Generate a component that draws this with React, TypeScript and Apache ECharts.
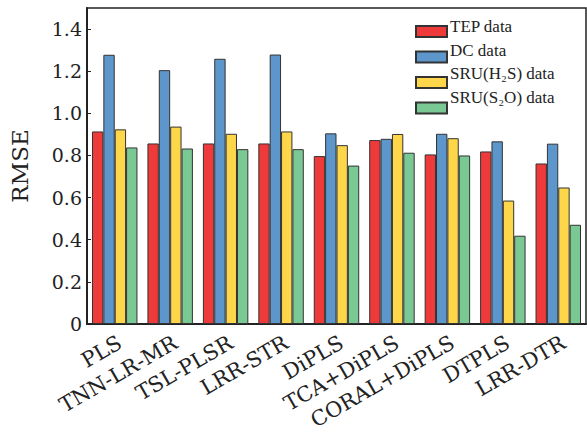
import React, { useEffect, useRef } from "react";
import * as echarts from "echarts";

const categories = ["PLS", "TNN-LR-MR", "TSL-PLSR", "LRR-STR", "DiPLS", "TCA+DiPLS", "CORAL+DiPLS", "DTPLS", "LRR-DTR"];
const seriesNames = ["TEP data", "DC data", "SRU(H₂S) data", "SRU(S₂O) data"];
const tepData = [0.914, 0.857, 0.857, 0.857, 0.797, 0.873, 0.805, 0.819, 0.762];
const dcData = [1.278, 1.205, 1.259, 1.279, 0.905, 0.879, 0.903, 0.867, 0.856];
const h2sData = [0.924, 0.937, 0.903, 0.914, 0.849, 0.902, 0.882, 0.586, 0.648];
const s2oData = [0.838, 0.833, 0.83, 0.83, 0.752, 0.813, 0.8, 0.419, 0.471];
const colors = ["#EE3A3B", "#5C96CB", "#FDD649", "#7AC894"];
const yTicks = [0, 0.2, 0.4, 0.6, 0.8, 1.0, 1.2, 1.4];

const FONT = "DejaVu Serif";
const INK = "#222";

const LEGEND_LEFT = 410;
const LEGEND_TOP = 20;
const LEGEND_ITEM_H = 11;
const LEGEND_GAP = 12.5;

export default function App() {
  const ref = useRef<HTMLDivElement>(null);
  useEffect(() => {
    if (!ref.current) return;
    const chart = echarts.init(ref.current, undefined, { renderer: "svg" });
    const values = [tepData, dcData, h2sData, s2oData];
    chart.setOption({
      animation: false,
      textStyle: { fontFamily: FONT },
      grid: {
        left: 82,
        right: 1,
        top: 8,
        bottom: 109,
        show: true,
        borderColor: INK,
        borderWidth: 1.5,
        containLabel: false,
      },
      legend: {
        orient: "vertical",
        left: LEGEND_LEFT,
        top: LEGEND_TOP,
        itemWidth: 31,
        itemHeight: LEGEND_ITEM_H,
        itemGap: LEGEND_GAP,
        icon: "rect",
        data: seriesNames,
        formatter: () => " ",
        textStyle: { fontSize: 1, color: "rgba(0,0,0,0)", padding: 0 },
      },
      graphic: seriesNames.map((name, i) => ({
        type: "text",
        x: LEGEND_LEFT + 40,
        y: LEGEND_TOP + LEGEND_ITEM_H / 2 + 1 + i * (LEGEND_ITEM_H + LEGEND_GAP),
        style: {
          text: name,
          fontFamily: "serif",
          fontSize: 17,
          fill: INK,
          verticalAlign: "middle",
          align: "left",
        },
      })),
      xAxis: {
        type: "category",
        data: categories,
        axisLine: { lineStyle: { color: INK, width: 2 } },
        axisTick: { show: false },
        axisLabel: {
          rotate: 30,
          interval: 0,
          fontSize: 21,
          fontFamily: FONT,
          color: INK,
          align: "right",
          verticalAlign: "top",
          margin: 8,
        },
      },
      yAxis: {
        type: "value",
        min: 0,
        max: 1.5,
        interval: 0.2,
        name: "RMSE",
        nameLocation: "middle",
        nameGap: 56,
        nameTextStyle: { fontSize: 23, fontFamily: FONT, color: INK },
        axisLine: { show: true, lineStyle: { color: INK, width: 2 } },
        axisTick: { show: true, inside: true, length: 4, lineStyle: { color: INK } },
        splitLine: { show: false },
        axisLabel: {
          fontSize: 19,
          fontFamily: FONT,
          color: INK,
          margin: 5,
          showMaxLabel: false,
          formatter: (v: number) => (yTicks.some((t) => Math.abs(t - v) < 1e-6) ? (v === 0 ? "0" : v.toFixed(1)) : ""),
        },
      },
      series: seriesNames.map((name, i) => ({
        name,
        type: "bar",
        data: values[i],
        barGap: "0%",
        barCategoryGap: "18%",
        itemStyle: { color: colors[i], borderColor: "#333", borderWidth: 1 },
      })),
    });
    return () => chart.dispose();
  }, []);
  return <div ref={ref} style={{ width: 587, height: 433, position: "absolute", left: 0, top: 0, background: "#fff" }} />;
}
